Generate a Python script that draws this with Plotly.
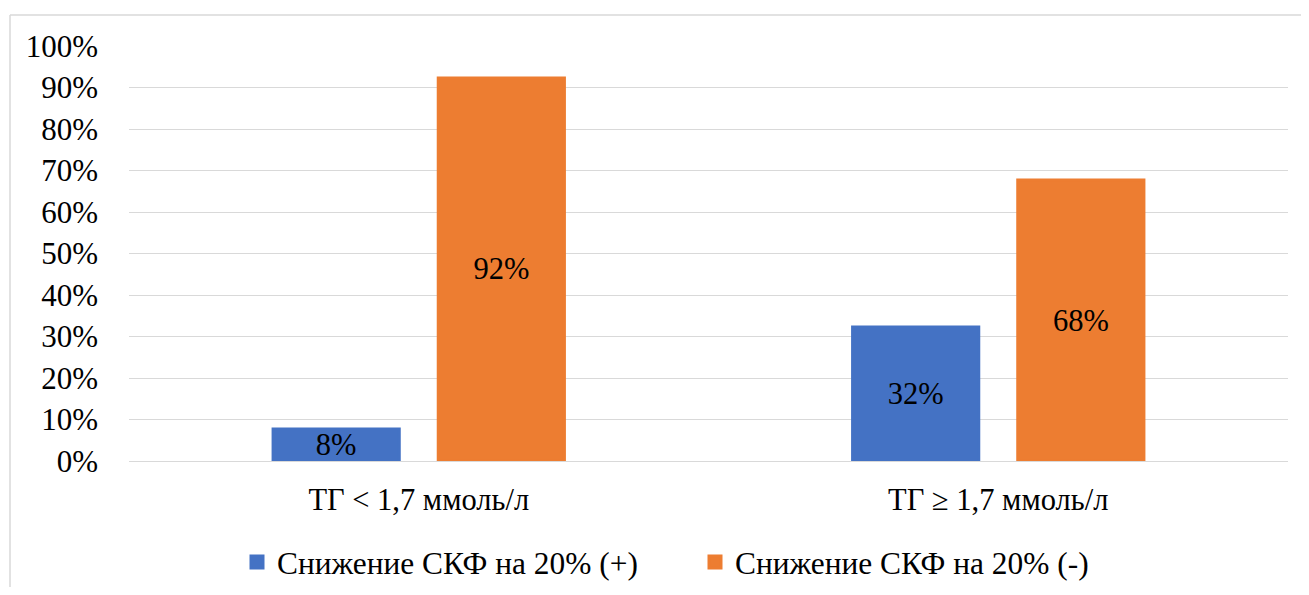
import plotly.graph_objects as go

categories = ["ТГ < 1,7 ммоль/л", "ТГ ≥ 1,7 ммоль/л"]
series_names = ["Снижение СКФ на 20% (+)", "Снижение СКФ на 20% (-)"]
values_plus = [7.7, 32.3]
values_minus = [92.3, 67.7]
colors = ["#4472C4", "#ED7D31"]
tick_vals = [0, 10, 20, 30, 40, 50, 60, 70, 80, 90, 100]
tick_text = [f"{v}%" for v in tick_vals]

FONT = "Liberation Serif"
OFF = 8  # default body margin of the html page (both sides)
W, H = 1309 - 2 * OFF, 595 - 2 * OFF
L = 129 - OFF
T = 46 - OFF
R = W - (1288 - OFF)
B = H - (461 - OFF)
pw, ph = W - L - R, H - T - B

fig = go.Figure()
for name, vals, col in zip(series_names, [values_plus, values_minus], colors):
    fig.add_trace(go.Bar(
        x=categories, y=vals, name=name, marker=dict(color=col, line=dict(width=3, color=col)),
        texttemplate="%{y:.0f}%", textposition="inside", insidetextanchor="middle",
        constraintext="none", textfont=dict(family=FONT, size=30.5, color="black"),
        cliponaxis=False,
    ))

def px_x(x):
    return (x - OFF - L) / pw

def px_y(y):
    return (H - B - (y - OFF)) / ph

def cx(x):
    return (x - OFF) / W

def cy(y):
    return 1 - (y - OFF) / H

fig.update_layout(
    width=W, height=H,
    margin=dict(l=L, r=R, t=T, b=B, autoexpand=False),
    paper_bgcolor="white", plot_bgcolor="white",
    font=dict(family=FONT, size=30, color="black"),
    barmode="group", bargap=0.43, bargroupgap=0.236,
    showlegend=True,
    legend=dict(orientation="h", xref="container", yref="container",
                x=cx(237), xanchor="left", y=cy(562), yanchor="middle",
                entrywidth=413, entrywidthmode="pixels",
                font=dict(family=FONT, size=31.4, color="black"), traceorder="normal"),
    xaxis=dict(showgrid=False, showline=False, ticks="", tickfont=dict(family=FONT, size=30.5),
               ticklabelstandoff=17, automargin=False),
    yaxis=dict(range=[0, 100], tickvals=tick_vals, ticktext=tick_text,
               showgrid=True, gridcolor="#D9D9D9", gridwidth=1,
               zeroline=True, zerolinecolor="#D9D9D9", zerolinewidth=1, automargin=False,
               showline=False, ticks="", ticklabelstandoff=30, tickfont=dict(family=FONT, size=31)),
    shapes=[
        dict(type="line", xref="paper", yref="paper", x0=px_x(10), x1=px_x(1320), y0=px_y(15), y1=px_y(15),
             line=dict(color="#D9D9D9", width=1.5)),
        dict(type="line", xref="paper", yref="paper", x0=px_x(10), x1=px_x(10), y0=px_y(15), y1=px_y(610),
             line=dict(color="#D9D9D9", width=1.5)),
    ],
)

fig.write_html("out.html")
